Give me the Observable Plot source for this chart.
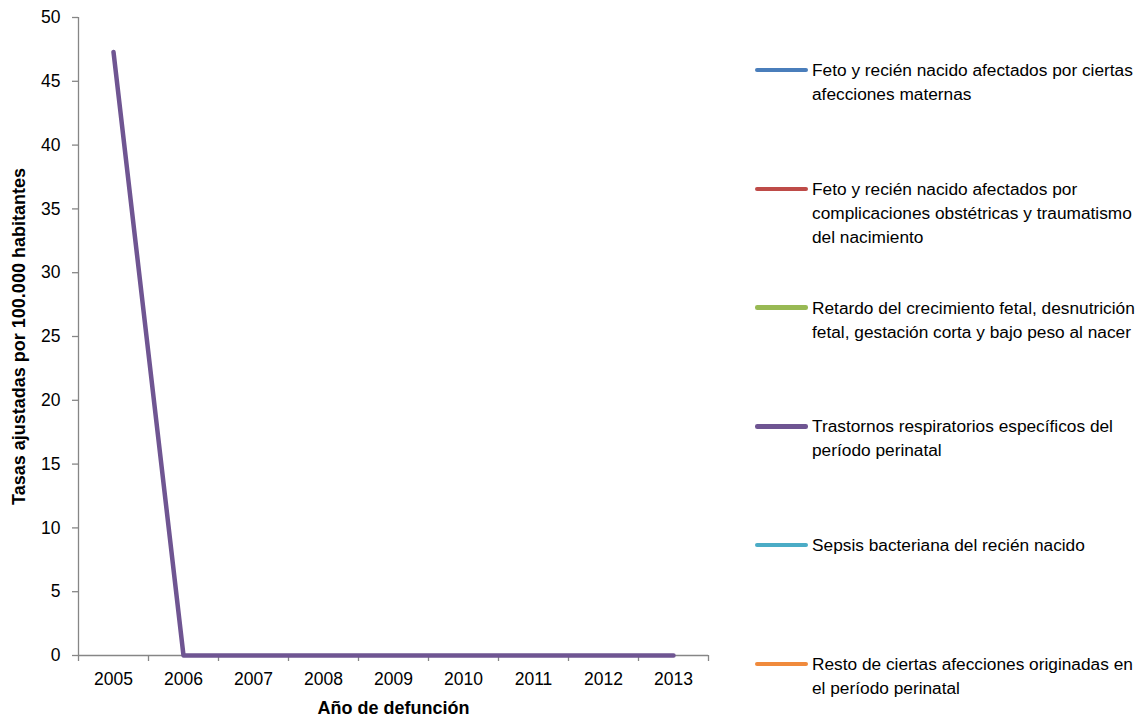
<!DOCTYPE html>
<html>
<head>
<meta charset="utf-8">
<script src="https://cdn.jsdelivr.net/npm/d3@7"></script>
<script src="https://cdn.jsdelivr.net/npm/@observablehq/plot@0.6"></script>
<style>
  html, body { margin: 0; padding: 0; background: #fff; }
  body { width: 1146px; height: 725px; position: relative; overflow: hidden;
         font-family: "Liberation Sans", Arial, sans-serif; }
  #chart { position: absolute; left: 0; top: 0; }
  #legend { position: absolute; left: 0; top: 0; }
  .item { position: absolute; left: 755px; width: 391px; }
  .sw { position: absolute; left: 0; width: 53px; height: 4.5px; border-radius: 2.25px; }
  .lbl { position: absolute; left: 57px; width: 334px; font-size: 17.3px; line-height: 24px; color: #000; }
  #chart svg text { fill: #000; }
</style>
</head>
<body>
<div id="chart"></div>
<div id="legend"></div>
<script>
// ---- Data ----
const years = [2005, 2006, 2007, 2008, 2009, 2010, 2011, 2012, 2013];
const causes = [
  "Feto y recién nacido afectados por ciertas afecciones maternas",
  "Feto y recién nacido afectados por complicaciones obstétricas y traumatismo del nacimiento",
  "Retardo del crecimiento fetal, desnutrición fetal, gestación corta y bajo peso al nacer",
  "Trastornos respiratorios específicos del período perinatal",
  "Sepsis bacteriana del recién nacido",
  "Resto de ciertas afecciones originadas en el período perinatal"
];
const colors = ["#4A7EBB", "#BE4B48", "#98B954", "#6F5592", "#4BACC6", "#F08A3C"];
const sMaternas       = [null, null, null, null, null, null, null, null, null];
const sComplicaciones = [null, null, null, null, null, null, null, null, null];
const sRetardo        = [null, null, null, null, null, null, null, null, null];
const sRespiratorios  = [47.3, 0, 0, 0, 0, 0, 0, 0, 0];
const sSepsis         = [null, null, null, null, null, null, null, null, null];
const sResto          = [null, null, null, null, null, null, null, null, null];
const yTicks = [0, 5, 10, 15, 20, 25, 30, 35, 40, 45, 50];
const yLabel = "Tasas ajustadas por 100.000 habitantes";
const xLabel = "Año de defunción";

// ---- Build table ----
const seriesList = [sMaternas, sComplicaciones, sRetardo, sRespiratorios, sSepsis, sResto];
const data = [];
seriesList.forEach((vals, i) => {
  vals.forEach((v, j) => data.push({cause: causes[i], year: years[j], value: v}));
});
const bounds = years.map(y => y - 0.5).concat([years[years.length - 1] + 0.5]);
const axisGray = "#868686";
const font = '"Liberation Sans", Arial, sans-serif';

const chart = Plot.plot({
  width: 740,
  height: 725,
  marginLeft: 78,
  marginRight: 32,
  marginTop: 17,
  marginBottom: 70,
  style: {fontFamily: font, fontSize: "17.5px", background: "#fff"},
  x: {type: "linear", domain: [bounds[0], bounds[bounds.length - 1]]},
  y: {domain: [0, 50]},
  color: {domain: causes, range: colors},
  marks: [
    Plot.ruleY([0], {stroke: axisGray, strokeWidth: 1.3}),
    Plot.ruleX([bounds[0]], {stroke: axisGray, strokeWidth: 1.3}),
    Plot.axisY({ticks: yTicks, tickSize: 6, tickPadding: 12, stroke: axisGray, strokeWidth: 1.3, label: null, fontSize: 17.5}),
    Plot.axisX({ticks: bounds, tickSize: 6, tickFormat: () => "", stroke: axisGray, strokeWidth: 1.3, label: null}),
    Plot.axisX({ticks: years, tickSize: 0, tickPadding: 17, tickFormat: d => String(d), label: null, fontSize: 17.5}),
    Plot.line(data, {x: "year", y: "value", z: "cause", stroke: "cause", strokeWidth: 4.5, strokeLinecap: "round", strokeLinejoin: "round"}),
    Plot.text([yLabel], {frameAnchor: "left", textAnchor: "middle", rotate: -90, dx: -59, fontSize: 18, fontWeight: "bold"}),
    Plot.text([xLabel], {frameAnchor: "bottom", textAnchor: "middle", dy: 58, fontSize: 18, fontWeight: "bold"})
  ]
});
document.getElementById("chart").appendChild(chart);

// ---- Legend ----
const legend = document.getElementById("legend");
causes.forEach((c, i) => {
  const center = 70 + i * 118.8;
  const item = document.createElement("div");
  item.className = "item";
  item.style.top = (center - 12) + "px";
  const sw = document.createElement("div");
  sw.className = "sw";
  sw.style.top = "9.75px";
  sw.style.background = colors[i];
  const lbl = document.createElement("div");
  lbl.className = "lbl";
  lbl.style.top = "0px";
  lbl.textContent = c;
  item.appendChild(sw);
  item.appendChild(lbl);
  legend.appendChild(item);
});
</script>
</body>
</html>
